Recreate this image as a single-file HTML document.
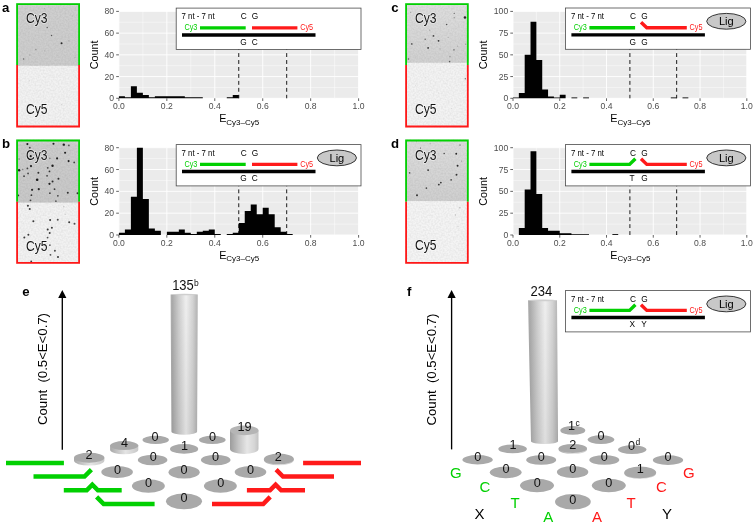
<!DOCTYPE html>
<html><head><meta charset="utf-8"><title>figure</title>
<style>html,body{margin:0;padding:0;background:#fff;}svg{display:block;will-change:transform;}</style></head><body>
<svg width="755" height="523" viewBox="0 0 755 523">
<defs>
<linearGradient id="cyl" x1="0" x2="1" y1="0" y2="0"><stop offset="0" stop-color="#b2b2b2"/><stop offset="0.06" stop-color="#a9a9a9"/><stop offset="0.3" stop-color="#cdcdcd"/><stop offset="0.57" stop-color="#efefef"/><stop offset="0.82" stop-color="#d3d3d3"/><stop offset="0.96" stop-color="#bababa"/><stop offset="1" stop-color="#acacac"/></linearGradient><linearGradient id="cylv" x1="0" x2="0" y1="0" y2="1"><stop offset="0" stop-color="#000" stop-opacity="0"/><stop offset="1" stop-color="#000" stop-opacity="0.07"/></linearGradient><linearGradient id="cyl2" x1="0" x2="1" y1="0" y2="0"><stop offset="0" stop-color="#9c9c9c"/><stop offset="0.3" stop-color="#c4c4c4"/><stop offset="0.6" stop-color="#e6e6e6"/><stop offset="0.85" stop-color="#d6d6d6"/><stop offset="1" stop-color="#c2c2c2"/></linearGradient>
<linearGradient id="rim" x1="0" x2="1" y1="0" y2="0"><stop offset="0" stop-color="#a8a8a8"/><stop offset="0.55" stop-color="#e4e4e4"/><stop offset="1" stop-color="#c8c8c8"/></linearGradient>
<filter id="nz" x="0" y="0" width="100%" height="100%" color-interpolation-filters="sRGB"><feTurbulence type="fractalNoise" baseFrequency="0.6" numOctaves="1" seed="7"/><feColorMatrix type="matrix" values="0 0 0 0 0  0 0 0 0 0  0 0 0 0 0  0.13 0 0 0 -0.045"/></filter>
</defs>
<rect width="755" height="523" fill="#fff"/>
<g opacity="0.999">
<text x="2" y="12.1" font-size="13.2" font-weight="bold" fill="#000" font-family="Liberation Sans, sans-serif">a</text>
<text x="2" y="148.4" font-size="13.2" font-weight="bold" fill="#000" font-family="Liberation Sans, sans-serif">b</text>
<text x="391.2" y="11.9" font-size="13.2" font-weight="bold" fill="#000" font-family="Liberation Sans, sans-serif">c</text>
<text x="391" y="148.4" font-size="13.2" font-weight="bold" fill="#000" font-family="Liberation Sans, sans-serif">d</text>
<text x="22.2" y="295.7" font-size="13.2" font-weight="bold" fill="#000" font-family="Liberation Sans, sans-serif">e</text>
<text x="407" y="295.7" font-size="13.2" font-weight="bold" fill="#000" font-family="Liberation Sans, sans-serif">f</text>
<linearGradient id="ib1" x1="0" x2="0" y1="0" y2="1"><stop offset="0" stop-color="#d6d6d6"/><stop offset="0.08" stop-color="#cfcfcf"/><stop offset="1" stop-color="#cccccc"/></linearGradient>
<rect x="16.2" y="3.3" width="63.8" height="62.6" fill="url(#ib1)"/>
<rect x="16.2" y="65.9" width="63.8" height="61.5" fill="#f2f2f2"/>
<rect x="16.2" y="3.3" width="63.8" height="124.1" fill="#000" filter="url(#nz)"/>
<circle cx="61.56" cy="43.26" r="1" fill="#0c0c0c" opacity="0.85"/>
<circle cx="51.52" cy="35.49" r="0.7" fill="#0c0c0c" opacity="0.6"/>
<circle cx="47.23" cy="27.45" r="0.7" fill="#0c0c0c" opacity="0.55"/>
<circle cx="35.85" cy="49.55" r="0.7" fill="#0c0c0c" opacity="0.3"/>
<circle cx="23.66" cy="58.93" r="0.7" fill="#0c0c0c" opacity="0.55"/>
<circle cx="68.93" cy="40.85" r="0.7" fill="#0c0c0c" opacity="0.25"/>
<circle cx="29.82" cy="54.91" r="0.6" fill="#0c0c0c" opacity="0.2"/>
<circle cx="74.95" cy="57.32" r="0.6" fill="#0c0c0c" opacity="0.2"/>
<circle cx="44.82" cy="50.89" r="0.6" fill="#0c0c0c" opacity="0.15"/>
<circle cx="72.27" cy="16.07" r="0.6" fill="#0c0c0c" opacity="0.12"/>
<circle cx="44.55" cy="8.7" r="0.6" fill="#0c0c0c" opacity="0.12"/>
<circle cx="29.35" cy="80.77" r="0.6" fill="#0c0c0c" opacity="0.12"/>
<circle cx="61.61" cy="104.52" r="0.6" fill="#0c0c0c" opacity="0.1"/>
<path d="M17.1 65.1V4.2H79.1V65.1" fill="none" stroke="#00d200" stroke-width="1.8"/>
<path d="M17.1 65.1V126.5H79.1V65.1" fill="none" stroke="#ff1818" stroke-width="1.8"/>
<text x="26" y="22.7" font-size="13.8" textLength="21.5" lengthAdjust="spacingAndGlyphs" fill="#111" stroke="#fff" stroke-opacity="0.5" stroke-width="1.6" paint-order="stroke" font-family="Liberation Sans, sans-serif">Cy3</text>
<text x="26" y="113.5" font-size="13.8" textLength="21.5" lengthAdjust="spacingAndGlyphs" fill="#111" stroke="#fff" stroke-opacity="0.5" stroke-width="1.6" paint-order="stroke" font-family="Liberation Sans, sans-serif">Cy5</text>
<linearGradient id="ib2" x1="0" x2="0" y1="0" y2="1"><stop offset="0" stop-color="#dcdcdc"/><stop offset="0.08" stop-color="#cccccc"/><stop offset="1" stop-color="#c8c8c8"/></linearGradient>
<rect x="16.2" y="139.6" width="63.8" height="63.2" fill="url(#ib2)"/>
<rect x="16.2" y="202.8" width="63.8" height="61" fill="#f2f2f2"/>
<rect x="16.2" y="139.6" width="63.8" height="124.2" fill="#000" filter="url(#nz)"/>
<circle cx="27.39" cy="144.1" r="1.05" fill="#0c0c0c" opacity="0.9"/>
<circle cx="53.48" cy="143.7" r="1.05" fill="#0c0c0c" opacity="0.9"/>
<circle cx="63.78" cy="144.63" r="1.2" fill="#0c0c0c" opacity="0.9"/>
<circle cx="68.86" cy="145.43" r="0.9" fill="#0c0c0c" opacity="0.6"/>
<circle cx="29.8" cy="147.71" r="0.9" fill="#0c0c0c" opacity="0.7"/>
<circle cx="65.12" cy="152.79" r="1.05" fill="#0c0c0c" opacity="0.9"/>
<circle cx="30.74" cy="156.14" r="1.05" fill="#0c0c0c" opacity="0.9"/>
<circle cx="57.09" cy="158.41" r="1.05" fill="#0c0c0c" opacity="0.9"/>
<circle cx="49.87" cy="158.41" r="0.8" fill="#0c0c0c" opacity="0.4"/>
<circle cx="68.6" cy="161.09" r="1.05" fill="#0c0c0c" opacity="0.9"/>
<circle cx="74.21" cy="162.42" r="0.9" fill="#0c0c0c" opacity="0.7"/>
<circle cx="19.1" cy="159.08" r="0.8" fill="#0c0c0c" opacity="0.35"/>
<circle cx="31" cy="166.04" r="1.1" fill="#0c0c0c" opacity="0.9"/>
<circle cx="52.54" cy="165.77" r="1.2" fill="#0c0c0c" opacity="0.9"/>
<circle cx="27.39" cy="168.44" r="0.9" fill="#0c0c0c" opacity="0.7"/>
<circle cx="47.73" cy="167.78" r="0.9" fill="#0c0c0c" opacity="0.7"/>
<circle cx="19.1" cy="170.18" r="1.2" fill="#0c0c0c" opacity="0.9"/>
<circle cx="22.71" cy="169.52" r="0.8" fill="#0c0c0c" opacity="0.35"/>
<circle cx="49.46" cy="171.39" r="0.9" fill="#0c0c0c" opacity="0.8"/>
<circle cx="38.36" cy="172.86" r="1" fill="#0c0c0c" opacity="0.8"/>
<circle cx="28.06" cy="173.39" r="0.9" fill="#0c0c0c" opacity="0.7"/>
<circle cx="24.05" cy="176.2" r="0.9" fill="#0c0c0c" opacity="0.7"/>
<circle cx="47.06" cy="175.8" r="0.9" fill="#0c0c0c" opacity="0.7"/>
<circle cx="58.43" cy="178.75" r="1" fill="#0c0c0c" opacity="0.8"/>
<circle cx="37.16" cy="179.82" r="1.3" fill="#0c0c0c" opacity="0.95"/>
<circle cx="52.54" cy="181.56" r="1" fill="#0c0c0c" opacity="0.85"/>
<circle cx="49.46" cy="183.83" r="1.1" fill="#0c0c0c" opacity="0.9"/>
<circle cx="32.07" cy="189.85" r="1.1" fill="#0c0c0c" opacity="0.85"/>
<circle cx="38.76" cy="189.18" r="1.1" fill="#0c0c0c" opacity="0.85"/>
<circle cx="54.55" cy="189.18" r="0.9" fill="#0c0c0c" opacity="0.75"/>
<circle cx="49.87" cy="193.19" r="0.9" fill="#0c0c0c" opacity="0.7"/>
<circle cx="67.79" cy="192.79" r="1" fill="#0c0c0c" opacity="0.8"/>
<circle cx="77.56" cy="193.19" r="1" fill="#0c0c0c" opacity="0.8"/>
<circle cx="31.4" cy="195.2" r="0.9" fill="#0c0c0c" opacity="0.8"/>
<circle cx="18.29" cy="195.47" r="0.9" fill="#0c0c0c" opacity="0.8"/>
<circle cx="57.89" cy="195.87" r="0.9" fill="#0c0c0c" opacity="0.7"/>
<circle cx="30.47" cy="200.28" r="0.9" fill="#0c0c0c" opacity="0.7"/>
<circle cx="55.89" cy="201.22" r="0.9" fill="#0c0c0c" opacity="0.55"/>
<circle cx="27.92" cy="205.75" r="1" fill="#0c0c0c" opacity="0.8"/>
<circle cx="29.78" cy="209.05" r="1" fill="#0c0c0c" opacity="0.8"/>
<circle cx="33.37" cy="221.24" r="1" fill="#0c0c0c" opacity="0.8"/>
<circle cx="50.14" cy="220.09" r="1" fill="#0c0c0c" opacity="0.8"/>
<circle cx="57.74" cy="219.8" r="1" fill="#0c0c0c" opacity="0.7"/>
<circle cx="69.21" cy="222.24" r="1" fill="#0c0c0c" opacity="0.8"/>
<circle cx="74.52" cy="223.67" r="1" fill="#0c0c0c" opacity="0.7"/>
<circle cx="51.86" cy="227.69" r="1" fill="#0c0c0c" opacity="0.8"/>
<circle cx="47.71" cy="229.41" r="1" fill="#0c0c0c" opacity="0.8"/>
<circle cx="49.71" cy="232.99" r="1" fill="#0c0c0c" opacity="0.8"/>
<circle cx="28.35" cy="234.71" r="1" fill="#0c0c0c" opacity="0.8"/>
<circle cx="24.34" cy="237.58" r="1" fill="#0c0c0c" opacity="0.8"/>
<circle cx="47.56" cy="237.58" r="0.9" fill="#0c0c0c" opacity="0.7"/>
<circle cx="49.86" cy="245.18" r="0.9" fill="#0c0c0c" opacity="0.6"/>
<circle cx="54.87" cy="250.63" r="1" fill="#0c0c0c" opacity="0.7"/>
<circle cx="50.43" cy="254.78" r="0.9" fill="#0c0c0c" opacity="0.7"/>
<circle cx="58.03" cy="257.08" r="1" fill="#0c0c0c" opacity="0.8"/>
<circle cx="31.22" cy="261.38" r="0.9" fill="#0c0c0c" opacity="0.8"/>
<circle cx="63.76" cy="206.47" r="0.7" fill="#0c0c0c" opacity="0.15"/>
<circle cx="65.2" cy="214.35" r="0.7" fill="#0c0c0c" opacity="0.15"/>
<path d="M17.1 201.8V140.5H79.1V201.8" fill="none" stroke="#00d200" stroke-width="1.8"/>
<path d="M17.1 201.8V262.9H79.1V201.8" fill="none" stroke="#ff1818" stroke-width="1.8"/>
<text x="26" y="159.6" font-size="13.8" textLength="21.5" lengthAdjust="spacingAndGlyphs" fill="#111" stroke="#fff" stroke-opacity="0.5" stroke-width="1.6" paint-order="stroke" font-family="Liberation Sans, sans-serif">Cy3</text>
<text x="26" y="250.5" font-size="13.8" textLength="21.5" lengthAdjust="spacingAndGlyphs" fill="#111" stroke="#fff" stroke-opacity="0.5" stroke-width="1.6" paint-order="stroke" font-family="Liberation Sans, sans-serif">Cy5</text>
<linearGradient id="ib3" x1="0" x2="0" y1="0" y2="1"><stop offset="0" stop-color="#e1e1e1"/><stop offset="0.08" stop-color="#dddddd"/><stop offset="1" stop-color="#d1d1d1"/></linearGradient>
<rect x="405.2" y="3.3" width="63.5" height="59.6" fill="url(#ib3)"/>
<rect x="405.2" y="62.9" width="63.5" height="64.5" fill="#f3f3f3"/>
<rect x="405.2" y="3.3" width="63.5" height="124.1" fill="#000" filter="url(#nz)"/>
<circle cx="464.95" cy="17.41" r="1.25" fill="#0c0c0c" opacity="0.85"/>
<circle cx="454.24" cy="13.39" r="0.7" fill="#0c0c0c" opacity="0.5"/>
<circle cx="454.24" cy="17.81" r="0.8" fill="#0c0c0c" opacity="0.3"/>
<circle cx="446.61" cy="24.51" r="0.8" fill="#0c0c0c" opacity="0.65"/>
<circle cx="410.71" cy="12.32" r="0.6" fill="#0c0c0c" opacity="0.3"/>
<circle cx="429.73" cy="30.13" r="0.7" fill="#0c0c0c" opacity="0.25"/>
<circle cx="433.48" cy="35.89" r="0.9" fill="#0c0c0c" opacity="0.7"/>
<circle cx="425.18" cy="39.24" r="0.7" fill="#0c0c0c" opacity="0.6"/>
<circle cx="438.57" cy="40.85" r="0.9" fill="#0c0c0c" opacity="0.8"/>
<circle cx="448.21" cy="37.5" r="0.6" fill="#0c0c0c" opacity="0.2"/>
<circle cx="411.79" cy="43.93" r="0.9" fill="#0c0c0c" opacity="0.6"/>
<circle cx="428.12" cy="47.94" r="0.9" fill="#0c0c0c" opacity="0.8"/>
<circle cx="453.97" cy="49.82" r="0.9" fill="#0c0c0c" opacity="0.4"/>
<circle cx="457.59" cy="46.2" r="0.6" fill="#0c0c0c" opacity="0.2"/>
<circle cx="449.95" cy="56.65" r="0.8" fill="#0c0c0c" opacity="0.25"/>
<circle cx="449.55" cy="61.6" r="0.8" fill="#0c0c0c" opacity="0.6"/>
<circle cx="408.44" cy="58.93" r="0.8" fill="#0c0c0c" opacity="0.6"/>
<circle cx="465.62" cy="44.19" r="0.6" fill="#0c0c0c" opacity="0.3"/>
<circle cx="439.91" cy="48.88" r="0.6" fill="#0c0c0c" opacity="0.15"/>
<circle cx="465.29" cy="78.71" r="0.7" fill="#0c0c0c" opacity="0.55"/>
<circle cx="415.48" cy="85.16" r="0.5" fill="#0c0c0c" opacity="0.12"/>
<circle cx="438.71" cy="92.9" r="0.5" fill="#0c0c0c" opacity="0.12"/>
<circle cx="451.61" cy="108.39" r="0.5" fill="#0c0c0c" opacity="0.12"/>
<circle cx="425.81" cy="77.42" r="0.5" fill="#0c0c0c" opacity="0.1"/>
<path d="M406.1 65.1V4.2H467.8V65.1" fill="none" stroke="#00d200" stroke-width="1.8"/>
<path d="M406.1 65.1V126.5H467.8V65.1" fill="none" stroke="#ff1818" stroke-width="1.8"/>
<text x="415" y="22.7" font-size="13.8" textLength="21.5" lengthAdjust="spacingAndGlyphs" fill="#111" stroke="#fff" stroke-opacity="0.5" stroke-width="1.6" paint-order="stroke" font-family="Liberation Sans, sans-serif">Cy3</text>
<text x="415" y="113.5" font-size="13.8" textLength="21.5" lengthAdjust="spacingAndGlyphs" fill="#111" stroke="#fff" stroke-opacity="0.5" stroke-width="1.6" paint-order="stroke" font-family="Liberation Sans, sans-serif">Cy5</text>
<linearGradient id="ib4" x1="0" x2="0" y1="0" y2="1"><stop offset="0" stop-color="#e0e0e0"/><stop offset="0.08" stop-color="#dcdcdc"/><stop offset="1" stop-color="#cfcfcf"/></linearGradient>
<rect x="405.2" y="139.6" width="63.5" height="61.8" fill="url(#ib4)"/>
<rect x="405.2" y="201.4" width="63.5" height="62.4" fill="#f4f4f4"/>
<rect x="405.2" y="139.6" width="63.5" height="124.2" fill="#000" filter="url(#nz)"/>
<circle cx="460" cy="145.04" r="0.9" fill="#0c0c0c" opacity="0.35"/>
<circle cx="420.49" cy="147.99" r="0.6" fill="#0c0c0c" opacity="0.7"/>
<circle cx="444.19" cy="153.48" r="0.8" fill="#0c0c0c" opacity="0.65"/>
<circle cx="456.25" cy="153.75" r="0.95" fill="#0c0c0c" opacity="0.85"/>
<circle cx="457.59" cy="165.8" r="0.95" fill="#0c0c0c" opacity="0.85"/>
<circle cx="461.6" cy="161.11" r="0.6" fill="#0c0c0c" opacity="0.3"/>
<circle cx="428.12" cy="170.09" r="0.95" fill="#0c0c0c" opacity="0.8"/>
<circle cx="409.64" cy="172.9" r="0.8" fill="#0c0c0c" opacity="0.65"/>
<circle cx="456.52" cy="174.78" r="0.95" fill="#0c0c0c" opacity="0.8"/>
<circle cx="451.16" cy="179.86" r="0.85" fill="#0c0c0c" opacity="0.65"/>
<circle cx="440.85" cy="182.54" r="0.9" fill="#0c0c0c" opacity="0.8"/>
<circle cx="438.84" cy="184.55" r="0.9" fill="#0c0c0c" opacity="0.8"/>
<circle cx="426.38" cy="188.17" r="0.8" fill="#0c0c0c" opacity="0.7"/>
<circle cx="417.01" cy="195.27" r="1" fill="#0c0c0c" opacity="0.8"/>
<circle cx="430.13" cy="143.7" r="0.6" fill="#0c0c0c" opacity="0.2"/>
<circle cx="416.34" cy="141.7" r="0.6" fill="#0c0c0c" opacity="0.2"/>
<circle cx="459.87" cy="207.77" r="0.7" fill="#0c0c0c" opacity="0.25"/>
<circle cx="455.48" cy="215" r="0.7" fill="#0c0c0c" opacity="0.2"/>
<circle cx="458.06" cy="226.61" r="0.6" fill="#0c0c0c" opacity="0.15"/>
<path d="M406.1 201.8V140.5H467.8V201.8" fill="none" stroke="#00d200" stroke-width="1.8"/>
<path d="M406.1 201.8V262.9H467.8V201.8" fill="none" stroke="#ff1818" stroke-width="1.8"/>
<text x="415" y="159.5" font-size="13.8" textLength="21.5" lengthAdjust="spacingAndGlyphs" fill="#111" stroke="#fff" stroke-opacity="0.5" stroke-width="1.6" paint-order="stroke" font-family="Liberation Sans, sans-serif">Cy3</text>
<text x="415" y="250.4" font-size="13.8" textLength="21.5" lengthAdjust="spacingAndGlyphs" fill="#111" stroke="#fff" stroke-opacity="0.5" stroke-width="1.6" paint-order="stroke" font-family="Liberation Sans, sans-serif">Cy5</text>
<rect x="118.9" y="11.4" width="239.7" height="86.9" fill="#ebebeb"/>
<line x1="142.87" x2="142.87" y1="11.4" y2="98.3" stroke="#fff" stroke-width="0.45"/>
<line x1="190.81" x2="190.81" y1="11.4" y2="98.3" stroke="#fff" stroke-width="0.45"/>
<line x1="238.75" x2="238.75" y1="11.4" y2="98.3" stroke="#fff" stroke-width="0.45"/>
<line x1="286.69" x2="286.69" y1="11.4" y2="98.3" stroke="#fff" stroke-width="0.45"/>
<line x1="334.63" x2="334.63" y1="11.4" y2="98.3" stroke="#fff" stroke-width="0.45"/>
<line x1="118.9" x2="358.6" y1="87.44" y2="87.44" stroke="#fff" stroke-width="0.45"/>
<line x1="118.9" x2="358.6" y1="65.71" y2="65.71" stroke="#fff" stroke-width="0.45"/>
<line x1="118.9" x2="358.6" y1="43.99" y2="43.99" stroke="#fff" stroke-width="0.45"/>
<line x1="118.9" x2="358.6" y1="22.26" y2="22.26" stroke="#fff" stroke-width="0.45"/>
<line x1="118.9" x2="118.9" y1="11.4" y2="98.3" stroke="#fff" stroke-width="0.9"/>
<line x1="166.84" x2="166.84" y1="11.4" y2="98.3" stroke="#fff" stroke-width="0.9"/>
<line x1="214.78" x2="214.78" y1="11.4" y2="98.3" stroke="#fff" stroke-width="0.9"/>
<line x1="262.72" x2="262.72" y1="11.4" y2="98.3" stroke="#fff" stroke-width="0.9"/>
<line x1="310.66" x2="310.66" y1="11.4" y2="98.3" stroke="#fff" stroke-width="0.9"/>
<line x1="358.6" x2="358.6" y1="11.4" y2="98.3" stroke="#fff" stroke-width="0.9"/>
<line x1="118.9" x2="358.6" y1="98.3" y2="98.3" stroke="#fff" stroke-width="0.9"/>
<line x1="118.9" x2="358.6" y1="76.58" y2="76.58" stroke="#fff" stroke-width="0.9"/>
<line x1="118.9" x2="358.6" y1="54.85" y2="54.85" stroke="#fff" stroke-width="0.9"/>
<line x1="118.9" x2="358.6" y1="33.13" y2="33.13" stroke="#fff" stroke-width="0.9"/>
<line x1="118.9" x2="358.6" y1="11.4" y2="11.4" stroke="#fff" stroke-width="0.9"/>
<line x1="238.75" x2="238.75" y1="11.4" y2="98.3" stroke="#000" stroke-width="0.9" stroke-dasharray="3.9 3.05"/>
<line x1="286.69" x2="286.69" y1="11.4" y2="98.3" stroke="#000" stroke-width="0.9" stroke-dasharray="3.9 3.05"/>
<path d="M118.9 98.3V96.13H124.89V97.21H130.89V86.35H136.88V92.87H142.87V95.04H148.86V97.21H154.86V96.13H160.85V96.13H166.84V96.13H172.83V96.13H178.83V96.13H184.82V97.21H190.81V97.21H196.8V97.21H202.8V98.3Z" fill="#000"/>
<path d="M226.77 98.3V97.21H232.76V95.04H238.75V98.3Z" fill="#000"/>
<line x1="116.2" x2="118.9" y1="98.3" y2="98.3" stroke="#333" stroke-width="0.75"/>
<text x="114.1" y="101.35" font-size="8.6" text-anchor="end" fill="#4d4d4d" font-family="Liberation Sans, sans-serif">0</text>
<line x1="116.2" x2="118.9" y1="76.58" y2="76.58" stroke="#333" stroke-width="0.75"/>
<text x="114.1" y="79.62" font-size="8.6" text-anchor="end" fill="#4d4d4d" font-family="Liberation Sans, sans-serif">20</text>
<line x1="116.2" x2="118.9" y1="54.85" y2="54.85" stroke="#333" stroke-width="0.75"/>
<text x="114.1" y="57.9" font-size="8.6" text-anchor="end" fill="#4d4d4d" font-family="Liberation Sans, sans-serif">40</text>
<line x1="116.2" x2="118.9" y1="33.13" y2="33.13" stroke="#333" stroke-width="0.75"/>
<text x="114.1" y="36.18" font-size="8.6" text-anchor="end" fill="#4d4d4d" font-family="Liberation Sans, sans-serif">60</text>
<line x1="116.2" x2="118.9" y1="11.4" y2="11.4" stroke="#333" stroke-width="0.75"/>
<text x="114.1" y="14.45" font-size="8.6" text-anchor="end" fill="#4d4d4d" font-family="Liberation Sans, sans-serif">80</text>
<line x1="118.9" x2="118.9" y1="98.3" y2="101" stroke="#333" stroke-width="0.75"/>
<text x="118.9" y="109.4" font-size="8.6" text-anchor="middle" fill="#4d4d4d" font-family="Liberation Sans, sans-serif">0.0</text>
<line x1="166.84" x2="166.84" y1="98.3" y2="101" stroke="#333" stroke-width="0.75"/>
<text x="166.84" y="109.4" font-size="8.6" text-anchor="middle" fill="#4d4d4d" font-family="Liberation Sans, sans-serif">0.2</text>
<line x1="214.78" x2="214.78" y1="98.3" y2="101" stroke="#333" stroke-width="0.75"/>
<text x="214.78" y="109.4" font-size="8.6" text-anchor="middle" fill="#4d4d4d" font-family="Liberation Sans, sans-serif">0.4</text>
<line x1="262.72" x2="262.72" y1="98.3" y2="101" stroke="#333" stroke-width="0.75"/>
<text x="262.72" y="109.4" font-size="8.6" text-anchor="middle" fill="#4d4d4d" font-family="Liberation Sans, sans-serif">0.6</text>
<line x1="310.66" x2="310.66" y1="98.3" y2="101" stroke="#333" stroke-width="0.75"/>
<text x="310.66" y="109.4" font-size="8.6" text-anchor="middle" fill="#4d4d4d" font-family="Liberation Sans, sans-serif">0.8</text>
<line x1="358.6" x2="358.6" y1="98.3" y2="101" stroke="#333" stroke-width="0.75"/>
<text x="358.6" y="109.4" font-size="8.6" text-anchor="middle" fill="#4d4d4d" font-family="Liberation Sans, sans-serif">1.0</text>
<text x="219.15" y="122.4" font-size="10.8" fill="#000" font-family="Liberation Sans, sans-serif">E<tspan font-size="8" dy="2.3">Cy3–Cy5</tspan></text>
<text transform="translate(97.9 54.85) rotate(-90)" font-size="10.8" text-anchor="middle" fill="#000" font-family="Liberation Sans, sans-serif">Count</text>
<rect x="118.9" y="147.7" width="239.7" height="87.3" fill="#ebebeb"/>
<line x1="142.87" x2="142.87" y1="147.7" y2="235" stroke="#fff" stroke-width="0.45"/>
<line x1="190.81" x2="190.81" y1="147.7" y2="235" stroke="#fff" stroke-width="0.45"/>
<line x1="238.75" x2="238.75" y1="147.7" y2="235" stroke="#fff" stroke-width="0.45"/>
<line x1="286.69" x2="286.69" y1="147.7" y2="235" stroke="#fff" stroke-width="0.45"/>
<line x1="334.63" x2="334.63" y1="147.7" y2="235" stroke="#fff" stroke-width="0.45"/>
<line x1="118.9" x2="358.6" y1="224.09" y2="224.09" stroke="#fff" stroke-width="0.45"/>
<line x1="118.9" x2="358.6" y1="202.26" y2="202.26" stroke="#fff" stroke-width="0.45"/>
<line x1="118.9" x2="358.6" y1="180.44" y2="180.44" stroke="#fff" stroke-width="0.45"/>
<line x1="118.9" x2="358.6" y1="158.61" y2="158.61" stroke="#fff" stroke-width="0.45"/>
<line x1="118.9" x2="118.9" y1="147.7" y2="235" stroke="#fff" stroke-width="0.9"/>
<line x1="166.84" x2="166.84" y1="147.7" y2="235" stroke="#fff" stroke-width="0.9"/>
<line x1="214.78" x2="214.78" y1="147.7" y2="235" stroke="#fff" stroke-width="0.9"/>
<line x1="262.72" x2="262.72" y1="147.7" y2="235" stroke="#fff" stroke-width="0.9"/>
<line x1="310.66" x2="310.66" y1="147.7" y2="235" stroke="#fff" stroke-width="0.9"/>
<line x1="358.6" x2="358.6" y1="147.7" y2="235" stroke="#fff" stroke-width="0.9"/>
<line x1="118.9" x2="358.6" y1="235" y2="235" stroke="#fff" stroke-width="0.9"/>
<line x1="118.9" x2="358.6" y1="213.18" y2="213.18" stroke="#fff" stroke-width="0.9"/>
<line x1="118.9" x2="358.6" y1="191.35" y2="191.35" stroke="#fff" stroke-width="0.9"/>
<line x1="118.9" x2="358.6" y1="169.52" y2="169.52" stroke="#fff" stroke-width="0.9"/>
<line x1="118.9" x2="358.6" y1="147.7" y2="147.7" stroke="#fff" stroke-width="0.9"/>
<line x1="238.75" x2="238.75" y1="147.7" y2="235" stroke="#000" stroke-width="0.9" stroke-dasharray="3.9 3.05"/>
<line x1="286.69" x2="286.69" y1="147.7" y2="235" stroke="#000" stroke-width="0.9" stroke-dasharray="3.9 3.05"/>
<path d="M118.9 235V232.82H124.89V229.54H130.89V196.81H136.88V147.7H142.87V198.99H148.86V228.45H154.86V230.63H160.85V235Z" fill="#000"/>
<path d="M166.84 235V231.73H172.83V231.73H178.83V229.54H184.82V232.82H190.81V233.91H196.8V231.73H202.8V230.63H208.79V229.54H214.78V233.91H220.77V235Z" fill="#000"/>
<path d="M226.77 235V233.91H232.76V232.82H238.75V223H244.74V210.99H250.74V204.44H256.73V214.27H262.72V207.72H268.71V214.27H274.71V227.36H280.7V231.73H286.69V233.91H292.68V235Z" fill="#000"/>
<line x1="116.2" x2="118.9" y1="235" y2="235" stroke="#333" stroke-width="0.75"/>
<text x="114.1" y="238.05" font-size="8.6" text-anchor="end" fill="#4d4d4d" font-family="Liberation Sans, sans-serif">0</text>
<line x1="116.2" x2="118.9" y1="213.18" y2="213.18" stroke="#333" stroke-width="0.75"/>
<text x="114.1" y="216.23" font-size="8.6" text-anchor="end" fill="#4d4d4d" font-family="Liberation Sans, sans-serif">20</text>
<line x1="116.2" x2="118.9" y1="191.35" y2="191.35" stroke="#333" stroke-width="0.75"/>
<text x="114.1" y="194.4" font-size="8.6" text-anchor="end" fill="#4d4d4d" font-family="Liberation Sans, sans-serif">40</text>
<line x1="116.2" x2="118.9" y1="169.52" y2="169.52" stroke="#333" stroke-width="0.75"/>
<text x="114.1" y="172.57" font-size="8.6" text-anchor="end" fill="#4d4d4d" font-family="Liberation Sans, sans-serif">60</text>
<line x1="116.2" x2="118.9" y1="147.7" y2="147.7" stroke="#333" stroke-width="0.75"/>
<text x="114.1" y="150.75" font-size="8.6" text-anchor="end" fill="#4d4d4d" font-family="Liberation Sans, sans-serif">80</text>
<line x1="118.9" x2="118.9" y1="235" y2="237.7" stroke="#333" stroke-width="0.75"/>
<text x="118.9" y="246.1" font-size="8.6" text-anchor="middle" fill="#4d4d4d" font-family="Liberation Sans, sans-serif">0.0</text>
<line x1="166.84" x2="166.84" y1="235" y2="237.7" stroke="#333" stroke-width="0.75"/>
<text x="166.84" y="246.1" font-size="8.6" text-anchor="middle" fill="#4d4d4d" font-family="Liberation Sans, sans-serif">0.2</text>
<line x1="214.78" x2="214.78" y1="235" y2="237.7" stroke="#333" stroke-width="0.75"/>
<text x="214.78" y="246.1" font-size="8.6" text-anchor="middle" fill="#4d4d4d" font-family="Liberation Sans, sans-serif">0.4</text>
<line x1="262.72" x2="262.72" y1="235" y2="237.7" stroke="#333" stroke-width="0.75"/>
<text x="262.72" y="246.1" font-size="8.6" text-anchor="middle" fill="#4d4d4d" font-family="Liberation Sans, sans-serif">0.6</text>
<line x1="310.66" x2="310.66" y1="235" y2="237.7" stroke="#333" stroke-width="0.75"/>
<text x="310.66" y="246.1" font-size="8.6" text-anchor="middle" fill="#4d4d4d" font-family="Liberation Sans, sans-serif">0.8</text>
<line x1="358.6" x2="358.6" y1="235" y2="237.7" stroke="#333" stroke-width="0.75"/>
<text x="358.6" y="246.1" font-size="8.6" text-anchor="middle" fill="#4d4d4d" font-family="Liberation Sans, sans-serif">1.0</text>
<text x="219.15" y="259.1" font-size="10.8" fill="#000" font-family="Liberation Sans, sans-serif">E<tspan font-size="8" dy="2.3">Cy3–Cy5</tspan></text>
<text transform="translate(97.9 191.35) rotate(-90)" font-size="10.8" text-anchor="middle" fill="#000" font-family="Liberation Sans, sans-serif">Count</text>
<rect x="513" y="11.4" width="233.8" height="86.9" fill="#ebebeb"/>
<line x1="536.38" x2="536.38" y1="11.4" y2="98.3" stroke="#fff" stroke-width="0.45"/>
<line x1="583.14" x2="583.14" y1="11.4" y2="98.3" stroke="#fff" stroke-width="0.45"/>
<line x1="629.9" x2="629.9" y1="11.4" y2="98.3" stroke="#fff" stroke-width="0.45"/>
<line x1="676.66" x2="676.66" y1="11.4" y2="98.3" stroke="#fff" stroke-width="0.45"/>
<line x1="723.42" x2="723.42" y1="11.4" y2="98.3" stroke="#fff" stroke-width="0.45"/>
<line x1="513" x2="746.8" y1="87.44" y2="87.44" stroke="#fff" stroke-width="0.45"/>
<line x1="513" x2="746.8" y1="65.71" y2="65.71" stroke="#fff" stroke-width="0.45"/>
<line x1="513" x2="746.8" y1="43.99" y2="43.99" stroke="#fff" stroke-width="0.45"/>
<line x1="513" x2="746.8" y1="22.26" y2="22.26" stroke="#fff" stroke-width="0.45"/>
<line x1="513" x2="513" y1="11.4" y2="98.3" stroke="#fff" stroke-width="0.9"/>
<line x1="559.76" x2="559.76" y1="11.4" y2="98.3" stroke="#fff" stroke-width="0.9"/>
<line x1="606.52" x2="606.52" y1="11.4" y2="98.3" stroke="#fff" stroke-width="0.9"/>
<line x1="653.28" x2="653.28" y1="11.4" y2="98.3" stroke="#fff" stroke-width="0.9"/>
<line x1="700.04" x2="700.04" y1="11.4" y2="98.3" stroke="#fff" stroke-width="0.9"/>
<line x1="746.8" x2="746.8" y1="11.4" y2="98.3" stroke="#fff" stroke-width="0.9"/>
<line x1="513" x2="746.8" y1="98.3" y2="98.3" stroke="#fff" stroke-width="0.9"/>
<line x1="513" x2="746.8" y1="76.57" y2="76.57" stroke="#fff" stroke-width="0.9"/>
<line x1="513" x2="746.8" y1="54.85" y2="54.85" stroke="#fff" stroke-width="0.9"/>
<line x1="513" x2="746.8" y1="33.12" y2="33.12" stroke="#fff" stroke-width="0.9"/>
<line x1="513" x2="746.8" y1="11.4" y2="11.4" stroke="#fff" stroke-width="0.9"/>
<line x1="629.9" x2="629.9" y1="11.4" y2="98.3" stroke="#000" stroke-width="0.9" stroke-dasharray="3.9 3.05"/>
<line x1="676.66" x2="676.66" y1="11.4" y2="98.3" stroke="#000" stroke-width="0.9" stroke-dasharray="3.9 3.05"/>
<path d="M513 98.3V97.43H518.85V93.09H524.69V54.85H530.53V21.83H536.38V60.06H542.23V89.61H548.07V96.56H553.91V97.43H559.76V94.82H565.61V98.3Z" fill="#000"/>
<path d="M571.45 98.3V97.43H577.29V98.3Z" fill="#000"/>
<path d="M583.14 98.3V97.43H588.99V98.3Z" fill="#000"/>
<path d="M670.81 98.3V97.43H676.66V98.3Z" fill="#000"/>
<path d="M682.5 98.3V97.43H688.35V98.3Z" fill="#000"/>
<line x1="510.3" x2="513" y1="98.3" y2="98.3" stroke="#333" stroke-width="0.75"/>
<text x="508.2" y="101.35" font-size="8.6" text-anchor="end" fill="#4d4d4d" font-family="Liberation Sans, sans-serif">0</text>
<line x1="510.3" x2="513" y1="76.57" y2="76.57" stroke="#333" stroke-width="0.75"/>
<text x="508.2" y="79.62" font-size="8.6" text-anchor="end" fill="#4d4d4d" font-family="Liberation Sans, sans-serif">25</text>
<line x1="510.3" x2="513" y1="54.85" y2="54.85" stroke="#333" stroke-width="0.75"/>
<text x="508.2" y="57.9" font-size="8.6" text-anchor="end" fill="#4d4d4d" font-family="Liberation Sans, sans-serif">50</text>
<line x1="510.3" x2="513" y1="33.12" y2="33.12" stroke="#333" stroke-width="0.75"/>
<text x="508.2" y="36.17" font-size="8.6" text-anchor="end" fill="#4d4d4d" font-family="Liberation Sans, sans-serif">75</text>
<line x1="510.3" x2="513" y1="11.4" y2="11.4" stroke="#333" stroke-width="0.75"/>
<text x="508.2" y="14.45" font-size="8.6" text-anchor="end" fill="#4d4d4d" font-family="Liberation Sans, sans-serif">100</text>
<line x1="513" x2="513" y1="98.3" y2="101" stroke="#333" stroke-width="0.75"/>
<text x="513" y="109.4" font-size="8.6" text-anchor="middle" fill="#4d4d4d" font-family="Liberation Sans, sans-serif">0.0</text>
<line x1="559.76" x2="559.76" y1="98.3" y2="101" stroke="#333" stroke-width="0.75"/>
<text x="559.76" y="109.4" font-size="8.6" text-anchor="middle" fill="#4d4d4d" font-family="Liberation Sans, sans-serif">0.2</text>
<line x1="606.52" x2="606.52" y1="98.3" y2="101" stroke="#333" stroke-width="0.75"/>
<text x="606.52" y="109.4" font-size="8.6" text-anchor="middle" fill="#4d4d4d" font-family="Liberation Sans, sans-serif">0.4</text>
<line x1="653.28" x2="653.28" y1="98.3" y2="101" stroke="#333" stroke-width="0.75"/>
<text x="653.28" y="109.4" font-size="8.6" text-anchor="middle" fill="#4d4d4d" font-family="Liberation Sans, sans-serif">0.6</text>
<line x1="700.04" x2="700.04" y1="98.3" y2="101" stroke="#333" stroke-width="0.75"/>
<text x="700.04" y="109.4" font-size="8.6" text-anchor="middle" fill="#4d4d4d" font-family="Liberation Sans, sans-serif">0.8</text>
<line x1="746.8" x2="746.8" y1="98.3" y2="101" stroke="#333" stroke-width="0.75"/>
<text x="746.8" y="109.4" font-size="8.6" text-anchor="middle" fill="#4d4d4d" font-family="Liberation Sans, sans-serif">1.0</text>
<text x="610.3" y="122.4" font-size="10.8" fill="#000" font-family="Liberation Sans, sans-serif">E<tspan font-size="8" dy="2.3">Cy3–Cy5</tspan></text>
<text transform="translate(487 54.85) rotate(-90)" font-size="10.8" text-anchor="middle" fill="#000" font-family="Liberation Sans, sans-serif">Count</text>
<rect x="513" y="147.7" width="233.8" height="87.3" fill="#ebebeb"/>
<line x1="536.38" x2="536.38" y1="147.7" y2="235" stroke="#fff" stroke-width="0.45"/>
<line x1="583.14" x2="583.14" y1="147.7" y2="235" stroke="#fff" stroke-width="0.45"/>
<line x1="629.9" x2="629.9" y1="147.7" y2="235" stroke="#fff" stroke-width="0.45"/>
<line x1="676.66" x2="676.66" y1="147.7" y2="235" stroke="#fff" stroke-width="0.45"/>
<line x1="723.42" x2="723.42" y1="147.7" y2="235" stroke="#fff" stroke-width="0.45"/>
<line x1="513" x2="746.8" y1="224.09" y2="224.09" stroke="#fff" stroke-width="0.45"/>
<line x1="513" x2="746.8" y1="202.26" y2="202.26" stroke="#fff" stroke-width="0.45"/>
<line x1="513" x2="746.8" y1="180.44" y2="180.44" stroke="#fff" stroke-width="0.45"/>
<line x1="513" x2="746.8" y1="158.61" y2="158.61" stroke="#fff" stroke-width="0.45"/>
<line x1="513" x2="513" y1="147.7" y2="235" stroke="#fff" stroke-width="0.9"/>
<line x1="559.76" x2="559.76" y1="147.7" y2="235" stroke="#fff" stroke-width="0.9"/>
<line x1="606.52" x2="606.52" y1="147.7" y2="235" stroke="#fff" stroke-width="0.9"/>
<line x1="653.28" x2="653.28" y1="147.7" y2="235" stroke="#fff" stroke-width="0.9"/>
<line x1="700.04" x2="700.04" y1="147.7" y2="235" stroke="#fff" stroke-width="0.9"/>
<line x1="746.8" x2="746.8" y1="147.7" y2="235" stroke="#fff" stroke-width="0.9"/>
<line x1="513" x2="746.8" y1="235" y2="235" stroke="#fff" stroke-width="0.9"/>
<line x1="513" x2="746.8" y1="213.18" y2="213.18" stroke="#fff" stroke-width="0.9"/>
<line x1="513" x2="746.8" y1="191.35" y2="191.35" stroke="#fff" stroke-width="0.9"/>
<line x1="513" x2="746.8" y1="169.52" y2="169.52" stroke="#fff" stroke-width="0.9"/>
<line x1="513" x2="746.8" y1="147.7" y2="147.7" stroke="#fff" stroke-width="0.9"/>
<line x1="629.9" x2="629.9" y1="147.7" y2="235" stroke="#000" stroke-width="0.9" stroke-dasharray="3.9 3.05"/>
<line x1="676.66" x2="676.66" y1="147.7" y2="235" stroke="#000" stroke-width="0.9" stroke-dasharray="3.9 3.05"/>
<path d="M518.85 235V228.02H524.69V189.6H530.53V151.19H536.38V193.97H542.23V228.02H548.07V230.63H553.91V230.63H559.76V233.25H565.61V233.25H571.45V234.13H577.29V234.13H583.14V234.13H588.99V235Z" fill="#000"/>
<path d="M612.37 235V234.13H618.21V235Z" fill="#000"/>
<line x1="510.3" x2="513" y1="235" y2="235" stroke="#333" stroke-width="0.75"/>
<text x="508.2" y="238.05" font-size="8.6" text-anchor="end" fill="#4d4d4d" font-family="Liberation Sans, sans-serif">0</text>
<line x1="510.3" x2="513" y1="213.18" y2="213.18" stroke="#333" stroke-width="0.75"/>
<text x="508.2" y="216.23" font-size="8.6" text-anchor="end" fill="#4d4d4d" font-family="Liberation Sans, sans-serif">25</text>
<line x1="510.3" x2="513" y1="191.35" y2="191.35" stroke="#333" stroke-width="0.75"/>
<text x="508.2" y="194.4" font-size="8.6" text-anchor="end" fill="#4d4d4d" font-family="Liberation Sans, sans-serif">50</text>
<line x1="510.3" x2="513" y1="169.52" y2="169.52" stroke="#333" stroke-width="0.75"/>
<text x="508.2" y="172.57" font-size="8.6" text-anchor="end" fill="#4d4d4d" font-family="Liberation Sans, sans-serif">75</text>
<line x1="510.3" x2="513" y1="147.7" y2="147.7" stroke="#333" stroke-width="0.75"/>
<text x="508.2" y="150.75" font-size="8.6" text-anchor="end" fill="#4d4d4d" font-family="Liberation Sans, sans-serif">100</text>
<line x1="513" x2="513" y1="235" y2="237.7" stroke="#333" stroke-width="0.75"/>
<text x="513" y="246.1" font-size="8.6" text-anchor="middle" fill="#4d4d4d" font-family="Liberation Sans, sans-serif">0.0</text>
<line x1="559.76" x2="559.76" y1="235" y2="237.7" stroke="#333" stroke-width="0.75"/>
<text x="559.76" y="246.1" font-size="8.6" text-anchor="middle" fill="#4d4d4d" font-family="Liberation Sans, sans-serif">0.2</text>
<line x1="606.52" x2="606.52" y1="235" y2="237.7" stroke="#333" stroke-width="0.75"/>
<text x="606.52" y="246.1" font-size="8.6" text-anchor="middle" fill="#4d4d4d" font-family="Liberation Sans, sans-serif">0.4</text>
<line x1="653.28" x2="653.28" y1="235" y2="237.7" stroke="#333" stroke-width="0.75"/>
<text x="653.28" y="246.1" font-size="8.6" text-anchor="middle" fill="#4d4d4d" font-family="Liberation Sans, sans-serif">0.6</text>
<line x1="700.04" x2="700.04" y1="235" y2="237.7" stroke="#333" stroke-width="0.75"/>
<text x="700.04" y="246.1" font-size="8.6" text-anchor="middle" fill="#4d4d4d" font-family="Liberation Sans, sans-serif">0.8</text>
<line x1="746.8" x2="746.8" y1="235" y2="237.7" stroke="#333" stroke-width="0.75"/>
<text x="746.8" y="246.1" font-size="8.6" text-anchor="middle" fill="#4d4d4d" font-family="Liberation Sans, sans-serif">1.0</text>
<text x="610.3" y="259.1" font-size="10.8" fill="#000" font-family="Liberation Sans, sans-serif">E<tspan font-size="8" dy="2.3">Cy3–Cy5</tspan></text>
<text transform="translate(487 191.35) rotate(-90)" font-size="10.8" text-anchor="middle" fill="#000" font-family="Liberation Sans, sans-serif">Count</text>
<rect x="176.2" y="8.1" width="184.8" height="41.3" fill="#fff" stroke="#4a4a4a" stroke-width="0.8"/>
<text x="181.6" y="19" font-size="8.3" textLength="33" lengthAdjust="spacingAndGlyphs" fill="#000" font-family="Liberation Sans, sans-serif">7 nt - 7 nt</text>
<text x="240.7" y="19" font-size="8.3" fill="#000" font-family="Liberation Sans, sans-serif">C</text>
<text x="251.8" y="19" font-size="8.3" fill="#000" font-family="Liberation Sans, sans-serif">G</text>
<text x="240.2" y="44.7" font-size="8.3" fill="#000" font-family="Liberation Sans, sans-serif">G</text>
<text x="251.8" y="44.7" font-size="8.3" fill="#000" font-family="Liberation Sans, sans-serif">C</text>
<text x="184.4" y="30.2" font-size="8.6" textLength="13" lengthAdjust="spacingAndGlyphs" fill="#00d000" font-family="Liberation Sans, sans-serif">Cy3</text>
<text x="300.2" y="30.2" font-size="8.6" textLength="13" lengthAdjust="spacingAndGlyphs" fill="#ff1a1a" font-family="Liberation Sans, sans-serif">Cy5</text>
<line x1="200" x2="245.7" y1="27.9" y2="27.9" stroke="#00d000" stroke-width="3.4"/>
<line x1="252" x2="297.4" y1="27.9" y2="27.9" stroke="#ff1a1a" stroke-width="3.4"/>
<line x1="182" x2="315.5" y1="35" y2="35" stroke="#000" stroke-width="3.4"/>
<rect x="176.2" y="144.6" width="184.8" height="41.3" fill="#fff" stroke="#4a4a4a" stroke-width="0.8"/>
<text x="181.6" y="155.5" font-size="8.3" textLength="33" lengthAdjust="spacingAndGlyphs" fill="#000" font-family="Liberation Sans, sans-serif">7 nt - 7 nt</text>
<text x="240.7" y="155.5" font-size="8.3" fill="#000" font-family="Liberation Sans, sans-serif">C</text>
<text x="251.8" y="155.5" font-size="8.3" fill="#000" font-family="Liberation Sans, sans-serif">G</text>
<text x="240.2" y="181.2" font-size="8.3" fill="#000" font-family="Liberation Sans, sans-serif">G</text>
<text x="251.8" y="181.2" font-size="8.3" fill="#000" font-family="Liberation Sans, sans-serif">C</text>
<text x="184.4" y="166.7" font-size="8.6" textLength="13" lengthAdjust="spacingAndGlyphs" fill="#00d000" font-family="Liberation Sans, sans-serif">Cy3</text>
<text x="300.2" y="166.7" font-size="8.6" textLength="13" lengthAdjust="spacingAndGlyphs" fill="#ff1a1a" font-family="Liberation Sans, sans-serif">Cy5</text>
<line x1="200" x2="245.7" y1="164.4" y2="164.4" stroke="#00d000" stroke-width="3.4"/>
<line x1="252" x2="297.4" y1="164.4" y2="164.4" stroke="#ff1a1a" stroke-width="3.4"/>
<line x1="182" x2="315.5" y1="171.5" y2="171.5" stroke="#000" stroke-width="3.4"/>
<ellipse cx="336.9" cy="157.9" rx="19.6" ry="7.9" fill="#c8c8c8" stroke="#222" stroke-width="0.9"/>
<text x="336.9" y="161.8" font-size="10.8" text-anchor="middle" textLength="14.8" lengthAdjust="spacingAndGlyphs" fill="#000" font-family="Liberation Sans, sans-serif">Lig</text>
<rect x="565.6" y="8" width="184.8" height="41.3" fill="#fff" stroke="#4a4a4a" stroke-width="0.8"/>
<text x="571" y="18.9" font-size="8.3" textLength="33" lengthAdjust="spacingAndGlyphs" fill="#000" font-family="Liberation Sans, sans-serif">7 nt - 7 nt</text>
<text x="630.1" y="18.9" font-size="8.3" fill="#000" font-family="Liberation Sans, sans-serif">C</text>
<text x="641.2" y="18.9" font-size="8.3" fill="#000" font-family="Liberation Sans, sans-serif">G</text>
<text x="629.6" y="44.6" font-size="8.3" fill="#000" font-family="Liberation Sans, sans-serif">G</text>
<text x="641.2" y="44.6" font-size="8.3" fill="#000" font-family="Liberation Sans, sans-serif">G</text>
<text x="573.8" y="30.1" font-size="8.6" textLength="13" lengthAdjust="spacingAndGlyphs" fill="#00d000" font-family="Liberation Sans, sans-serif">Cy3</text>
<text x="689.6" y="30.1" font-size="8.6" textLength="13" lengthAdjust="spacingAndGlyphs" fill="#ff1a1a" font-family="Liberation Sans, sans-serif">Cy5</text>
<line x1="589.4" x2="635.1" y1="27.8" y2="27.8" stroke="#00d000" stroke-width="3.4"/>
<path d="M641 22.2L646.8 27.8H686.8" fill="none" stroke="#ff1a1a" stroke-width="3.4"/>
<line x1="571.4" x2="704.9" y1="34.9" y2="34.9" stroke="#000" stroke-width="3.4"/>
<ellipse cx="726.3" cy="21.3" rx="19.6" ry="7.9" fill="#c8c8c8" stroke="#222" stroke-width="0.9"/>
<text x="726.3" y="25.2" font-size="10.8" text-anchor="middle" textLength="14.8" lengthAdjust="spacingAndGlyphs" fill="#000" font-family="Liberation Sans, sans-serif">Lig</text>
<rect x="565.6" y="144.6" width="184.8" height="41.3" fill="#fff" stroke="#4a4a4a" stroke-width="0.8"/>
<text x="571" y="155.5" font-size="8.3" textLength="33" lengthAdjust="spacingAndGlyphs" fill="#000" font-family="Liberation Sans, sans-serif">7 nt - 7 nt</text>
<text x="630.1" y="155.5" font-size="8.3" fill="#000" font-family="Liberation Sans, sans-serif">C</text>
<text x="641.2" y="155.5" font-size="8.3" fill="#000" font-family="Liberation Sans, sans-serif">G</text>
<text x="629.6" y="181.2" font-size="8.3" fill="#000" font-family="Liberation Sans, sans-serif">T</text>
<text x="641.2" y="181.2" font-size="8.3" fill="#000" font-family="Liberation Sans, sans-serif">G</text>
<text x="573.8" y="166.7" font-size="8.6" textLength="13" lengthAdjust="spacingAndGlyphs" fill="#00d000" font-family="Liberation Sans, sans-serif">Cy3</text>
<text x="689.6" y="166.7" font-size="8.6" textLength="13" lengthAdjust="spacingAndGlyphs" fill="#ff1a1a" font-family="Liberation Sans, sans-serif">Cy5</text>
<path d="M589.4 164.4H629.6L635.4 158.8" fill="none" stroke="#00d000" stroke-width="3.4"/>
<path d="M641 158.8L646.8 164.4H686.8" fill="none" stroke="#ff1a1a" stroke-width="3.4"/>
<line x1="571.4" x2="704.9" y1="171.5" y2="171.5" stroke="#000" stroke-width="3.4"/>
<ellipse cx="726.3" cy="157.9" rx="19.6" ry="7.9" fill="#c8c8c8" stroke="#222" stroke-width="0.9"/>
<text x="726.3" y="161.8" font-size="10.8" text-anchor="middle" textLength="14.8" lengthAdjust="spacingAndGlyphs" fill="#000" font-family="Liberation Sans, sans-serif">Lig</text>
<rect x="565.6" y="290.6" width="184.8" height="41.3" fill="#fff" stroke="#4a4a4a" stroke-width="0.8"/>
<text x="571" y="301.5" font-size="8.3" textLength="33" lengthAdjust="spacingAndGlyphs" fill="#000" font-family="Liberation Sans, sans-serif">7 nt - 7 nt</text>
<text x="630.1" y="301.5" font-size="8.3" fill="#000" font-family="Liberation Sans, sans-serif">C</text>
<text x="641.2" y="301.5" font-size="8.3" fill="#000" font-family="Liberation Sans, sans-serif">G</text>
<text x="629.6" y="327.2" font-size="8.3" fill="#000" font-family="Liberation Sans, sans-serif">X</text>
<text x="641.2" y="327.2" font-size="8.3" fill="#000" font-family="Liberation Sans, sans-serif">Y</text>
<text x="573.8" y="312.7" font-size="8.6" textLength="13" lengthAdjust="spacingAndGlyphs" fill="#00d000" font-family="Liberation Sans, sans-serif">Cy3</text>
<text x="689.6" y="312.7" font-size="8.6" textLength="13" lengthAdjust="spacingAndGlyphs" fill="#ff1a1a" font-family="Liberation Sans, sans-serif">Cy5</text>
<path d="M589.4 310.4H629.6L635.4 304.8" fill="none" stroke="#00d000" stroke-width="3.4"/>
<path d="M641 304.8L646.8 310.4H686.8" fill="none" stroke="#ff1a1a" stroke-width="3.4"/>
<line x1="571.4" x2="704.9" y1="317.5" y2="317.5" stroke="#000" stroke-width="3.4"/>
<ellipse cx="726.3" cy="303.9" rx="19.6" ry="7.9" fill="#c8c8c8" stroke="#222" stroke-width="0.9"/>
<text x="726.3" y="307.8" font-size="10.8" text-anchor="middle" textLength="14.8" lengthAdjust="spacingAndGlyphs" fill="#000" font-family="Liberation Sans, sans-serif">Lig</text>
<line x1="62.3" x2="62.3" y1="295.1" y2="449.7" stroke="#000" stroke-width="1.35"/>
<path d="M62.3 290.1L66.4 297.9H58.2Z" fill="#000"/>
<text transform="translate(46.9 369) rotate(-90)" font-size="12.3" text-anchor="middle" textLength="112" lengthAdjust="spacingAndGlyphs" fill="#000" font-family="Liberation Sans, sans-serif" xml:space="preserve">Count  (0.5&lt;E&lt;0.7)</text>
<path d="M6 463H63.9" fill="none" stroke="#00d000" stroke-width="4.5" stroke-linejoin="miter"/>
<path d="M33.5 476.6H84.5L91.4 469.7" fill="none" stroke="#00d000" stroke-width="4.5" stroke-linejoin="miter"/>
<path d="M63.8 490.3H86.7L92.3 484.7L97.9 490.3H121.7" fill="none" stroke="#00d000" stroke-width="4.5" stroke-linejoin="miter"/>
<path d="M96.6 496.9L103.7 504.1H154.6" fill="none" stroke="#00d000" stroke-width="4.5" stroke-linejoin="miter"/>
<path d="M303.1 463H361" fill="none" stroke="#ff1a1a" stroke-width="4.5" stroke-linejoin="miter"/>
<path d="M276.1 469.7L283 476.6H334" fill="none" stroke="#ff1a1a" stroke-width="4.5" stroke-linejoin="miter"/>
<path d="M246.9 490.3H270L275.6 484.7L281.2 490.3H305" fill="none" stroke="#ff1a1a" stroke-width="4.5" stroke-linejoin="miter"/>
<path d="M212 504.1H263.2L270.2 496.9" fill="none" stroke="#ff1a1a" stroke-width="4.5" stroke-linejoin="miter"/>
<path d="M170.6 294.5L171.4 431.4A12.85 3.3 0 0 0 197.1 431.4L197.7 294.5Z" fill="url(#cyl)"/>
<path d="M170.6 294.5L171.4 431.4A12.85 3.3 0 0 0 197.1 431.4L197.7 294.5Z" fill="url(#cylv)"/>
<ellipse cx="184.15" cy="294.5" rx="13.55" ry="0.8" fill="#cfcfcf"/>
<text x="172.15" y="290.3" font-size="13.9" textLength="21.6" lengthAdjust="spacingAndGlyphs" fill="#111" font-family="Liberation Sans, sans-serif">135</text>
<text x="194.05" y="286.1" font-size="8.5" fill="#111" font-family="Liberation Sans, sans-serif">b</text>
<ellipse cx="155.7" cy="439.9" rx="13.2" ry="4.1" fill="#a9a9a9"/>
<text x="151.38" y="441.3" font-size="13.6" textLength="7.05" lengthAdjust="spacingAndGlyphs" fill="#111" font-family="Liberation Sans, sans-serif">0</text>
<ellipse cx="212.3" cy="439.9" rx="13.3" ry="4.1" fill="#a9a9a9"/>
<text x="208.88" y="441.3" font-size="13.6" textLength="7.05" lengthAdjust="spacingAndGlyphs" fill="#111" font-family="Liberation Sans, sans-serif">0</text>
<path d="M110.1 445.6v4.1a14.1 4.5 0 0 0 28.2 0v-4.1Z" fill="url(#rim)"/>
<ellipse cx="124.2" cy="445.6" rx="14.1" ry="4.5" fill="#a9a9a9"/>
<text x="120.88" y="446.6" font-size="13.6" textLength="7.05" lengthAdjust="spacingAndGlyphs" fill="#111" font-family="Liberation Sans, sans-serif">4</text>
<ellipse cx="184.1" cy="448.9" rx="14.1" ry="4.9" fill="#a9a9a9"/>
<text x="180.88" y="449.5" font-size="13.6" textLength="7.05" lengthAdjust="spacingAndGlyphs" fill="#111" font-family="Liberation Sans, sans-serif">1</text>
<path d="M230 430.4L230 448.9A14.25 5.1 0 0 0 258.5 448.9L258.5 430.4Z" fill="url(#cyl2)"/>
<ellipse cx="244.25" cy="430.4" rx="14.25" ry="4.8" fill="#b5b5b5"/>
<text x="237.55" y="430.7" font-size="13.6" textLength="14.1" lengthAdjust="spacingAndGlyphs" fill="#111" font-family="Liberation Sans, sans-serif">19</text>
<path d="M74 457.8v2.8a15.2 5 0 0 0 30.4 0v-2.8Z" fill="url(#rim)"/>
<ellipse cx="89.2" cy="457.8" rx="15.2" ry="5" fill="#a9a9a9"/>
<text x="85.47" y="459.3" font-size="13.6" textLength="7.05" lengthAdjust="spacingAndGlyphs" fill="#111" font-family="Liberation Sans, sans-serif">2</text>
<ellipse cx="152.6" cy="460" rx="14.8" ry="5.2" fill="#a9a9a9"/>
<text x="149.67" y="461.4" font-size="13.6" textLength="7.05" lengthAdjust="spacingAndGlyphs" fill="#111" font-family="Liberation Sans, sans-serif">0</text>
<ellipse cx="215.7" cy="460" rx="14.8" ry="5.2" fill="#a9a9a9"/>
<text x="212.07" y="461.4" font-size="13.6" textLength="7.05" lengthAdjust="spacingAndGlyphs" fill="#111" font-family="Liberation Sans, sans-serif">0</text>
<path d="M263.9 458.9v1a15 5.3 0 0 0 30 0v-1Z" fill="url(#rim)"/>
<ellipse cx="278.9" cy="458.9" rx="15" ry="5.3" fill="#a9a9a9"/>
<text x="274.68" y="460.7" font-size="13.6" textLength="7.05" lengthAdjust="spacingAndGlyphs" fill="#111" font-family="Liberation Sans, sans-serif">2</text>
<ellipse cx="117.1" cy="471.9" rx="15.8" ry="6" fill="#a9a9a9"/>
<text x="113.97" y="473.7" font-size="13.6" textLength="7.05" lengthAdjust="spacingAndGlyphs" fill="#111" font-family="Liberation Sans, sans-serif">0</text>
<ellipse cx="184.1" cy="472.2" rx="15.6" ry="6.4" fill="#a9a9a9"/>
<text x="180.38" y="473.7" font-size="13.6" textLength="7.05" lengthAdjust="spacingAndGlyphs" fill="#111" font-family="Liberation Sans, sans-serif">0</text>
<ellipse cx="250.5" cy="471.9" rx="15.8" ry="6" fill="#a9a9a9"/>
<text x="246.88" y="473.7" font-size="13.6" textLength="7.05" lengthAdjust="spacingAndGlyphs" fill="#111" font-family="Liberation Sans, sans-serif">0</text>
<ellipse cx="148.4" cy="486" rx="16.5" ry="6.8" fill="#a9a9a9"/>
<text x="145.07" y="487.1" font-size="13.6" textLength="7.05" lengthAdjust="spacingAndGlyphs" fill="#111" font-family="Liberation Sans, sans-serif">0</text>
<ellipse cx="220.4" cy="486" rx="16.5" ry="6.8" fill="#a9a9a9"/>
<text x="217.28" y="487.1" font-size="13.6" textLength="7.05" lengthAdjust="spacingAndGlyphs" fill="#111" font-family="Liberation Sans, sans-serif">0</text>
<ellipse cx="184" cy="501.3" rx="18" ry="7.9" fill="#a9a9a9"/>
<text x="180.38" y="502.3" font-size="13.6" textLength="7.05" lengthAdjust="spacingAndGlyphs" fill="#111" font-family="Liberation Sans, sans-serif">0</text>
<line x1="451.6" x2="451.6" y1="295.1" y2="449.4" stroke="#000" stroke-width="1.35"/>
<path d="M451.6 290.1L455.7 297.9H447.5Z" fill="#000"/>
<text transform="translate(435.7 369.5) rotate(-90)" font-size="12.3" text-anchor="middle" textLength="112" lengthAdjust="spacingAndGlyphs" fill="#000" font-family="Liberation Sans, sans-serif" xml:space="preserve">Count  (0.5&lt;E&lt;0.7)</text>
<ellipse cx="572.8" cy="430.4" rx="12.5" ry="4.3" fill="#a9a9a9"/>
<text x="568.08" y="430.2" font-size="13.6" textLength="7.05" lengthAdjust="spacingAndGlyphs" fill="#111" font-family="Liberation Sans, sans-serif">1</text>
<text x="575.42" y="426" font-size="8.5" fill="#111" font-family="Liberation Sans, sans-serif">c</text>
<ellipse cx="601" cy="439.6" rx="13.3" ry="4.4" fill="#a9a9a9"/>
<text x="597.48" y="439.8" font-size="13.6" textLength="7.05" lengthAdjust="spacingAndGlyphs" fill="#111" font-family="Liberation Sans, sans-serif">0</text>
<ellipse cx="512.6" cy="448.9" rx="14.3" ry="4.3" fill="#a9a9a9"/>
<text x="509.48" y="449.4" font-size="13.6" textLength="7.05" lengthAdjust="spacingAndGlyphs" fill="#111" font-family="Liberation Sans, sans-serif">1</text>
<path d="M558.6 448.4v1.2a14.2 4.5 0 0 0 28.4 0v-1.2Z" fill="url(#rim)"/>
<ellipse cx="572.8" cy="448.4" rx="14.2" ry="4.5" fill="#a9a9a9"/>
<text x="569.27" y="449.4" font-size="13.6" textLength="7.05" lengthAdjust="spacingAndGlyphs" fill="#111" font-family="Liberation Sans, sans-serif">2</text>
<ellipse cx="632.2" cy="449.6" rx="14.2" ry="4.4" fill="#a9a9a9"/>
<text x="628.08" y="449.6" font-size="13.6" textLength="7.05" lengthAdjust="spacingAndGlyphs" fill="#111" font-family="Liberation Sans, sans-serif">0</text>
<text x="635.42" y="445.4" font-size="8.5" fill="#111" font-family="Liberation Sans, sans-serif">d</text>
<path d="M528 300.3L531 441.3A13.5 2.8 0 0 0 558 441.3L557 300.3Z" fill="url(#cyl)"/>
<path d="M528 300.3L531 441.3A13.5 2.8 0 0 0 558 441.3L557 300.3Z" fill="url(#cylv)"/>
<ellipse cx="542.5" cy="300.3" rx="14.5" ry="0.9" fill="#cfcfcf"/>
<text x="530.42" y="296.3" font-size="13.9" textLength="21.75" lengthAdjust="spacingAndGlyphs" fill="#111" font-family="Liberation Sans, sans-serif">234</text>
<ellipse cx="477.6" cy="459.8" rx="15.2" ry="4.7" fill="#a9a9a9"/>
<text x="474.18" y="460.6" font-size="13.6" textLength="7.05" lengthAdjust="spacingAndGlyphs" fill="#111" font-family="Liberation Sans, sans-serif">0</text>
<ellipse cx="541.2" cy="460" rx="15" ry="4.8" fill="#a9a9a9"/>
<text x="537.77" y="460.8" font-size="13.6" textLength="7.05" lengthAdjust="spacingAndGlyphs" fill="#111" font-family="Liberation Sans, sans-serif">0</text>
<ellipse cx="604.3" cy="460" rx="15" ry="4.8" fill="#a9a9a9"/>
<text x="600.77" y="460.8" font-size="13.6" textLength="7.05" lengthAdjust="spacingAndGlyphs" fill="#111" font-family="Liberation Sans, sans-serif">0</text>
<ellipse cx="668" cy="460.1" rx="15.2" ry="4.9" fill="#a9a9a9"/>
<text x="664.58" y="460.6" font-size="13.6" textLength="7.05" lengthAdjust="spacingAndGlyphs" fill="#111" font-family="Liberation Sans, sans-serif">0</text>
<ellipse cx="505.7" cy="472.3" rx="15.9" ry="5.9" fill="#a9a9a9"/>
<text x="502.48" y="473.4" font-size="13.6" textLength="7.05" lengthAdjust="spacingAndGlyphs" fill="#111" font-family="Liberation Sans, sans-serif">0</text>
<ellipse cx="572.6" cy="472" rx="15.7" ry="6.1" fill="#a9a9a9"/>
<text x="569.27" y="473.4" font-size="13.6" textLength="7.05" lengthAdjust="spacingAndGlyphs" fill="#111" font-family="Liberation Sans, sans-serif">0</text>
<path d="M624.3 472.4v0.8a15.9 5.9 0 0 0 31.8 0v-0.8Z" fill="url(#rim)"/>
<ellipse cx="640.2" cy="472.4" rx="15.9" ry="5.9" fill="#a9a9a9"/>
<text x="636.77" y="473.2" font-size="13.6" textLength="7.05" lengthAdjust="spacingAndGlyphs" fill="#111" font-family="Liberation Sans, sans-serif">1</text>
<ellipse cx="537" cy="485.5" rx="17" ry="6.8" fill="#a9a9a9"/>
<text x="533.68" y="487.2" font-size="13.6" textLength="7.05" lengthAdjust="spacingAndGlyphs" fill="#111" font-family="Liberation Sans, sans-serif">0</text>
<ellipse cx="608.8" cy="485.5" rx="17" ry="6.8" fill="#a9a9a9"/>
<text x="605.27" y="487.2" font-size="13.6" textLength="7.05" lengthAdjust="spacingAndGlyphs" fill="#111" font-family="Liberation Sans, sans-serif">0</text>
<ellipse cx="572.9" cy="501.8" rx="17.9" ry="7.7" fill="#a9a9a9"/>
<text x="569.27" y="504.3" font-size="13.6" textLength="7.05" lengthAdjust="spacingAndGlyphs" fill="#111" font-family="Liberation Sans, sans-serif">0</text>
<text x="455.9" y="478.1" font-size="15" text-anchor="middle" fill="#00d000" font-family="Liberation Sans, sans-serif">G</text>
<text x="484.8" y="491.9" font-size="15" text-anchor="middle" fill="#00d000" font-family="Liberation Sans, sans-serif">C</text>
<text x="515" y="507.8" font-size="15" text-anchor="middle" fill="#00d000" font-family="Liberation Sans, sans-serif">T</text>
<text x="548.3" y="521.6" font-size="15" text-anchor="middle" fill="#00d000" font-family="Liberation Sans, sans-serif">A</text>
<text x="596.9" y="521.6" font-size="15" text-anchor="middle" fill="#ff1a1a" font-family="Liberation Sans, sans-serif">A</text>
<text x="631" y="507.8" font-size="15" text-anchor="middle" fill="#ff1a1a" font-family="Liberation Sans, sans-serif">T</text>
<text x="661.4" y="491.9" font-size="15" text-anchor="middle" fill="#ff1a1a" font-family="Liberation Sans, sans-serif">C</text>
<text x="688.9" y="478.1" font-size="15" text-anchor="middle" fill="#ff1a1a" font-family="Liberation Sans, sans-serif">G</text>
<text x="479.5" y="519" font-size="15" text-anchor="middle" fill="#000" font-family="Liberation Sans, sans-serif">X</text>
<text x="667" y="519" font-size="15" text-anchor="middle" fill="#000" font-family="Liberation Sans, sans-serif">Y</text>
</g>
</svg></body></html>
